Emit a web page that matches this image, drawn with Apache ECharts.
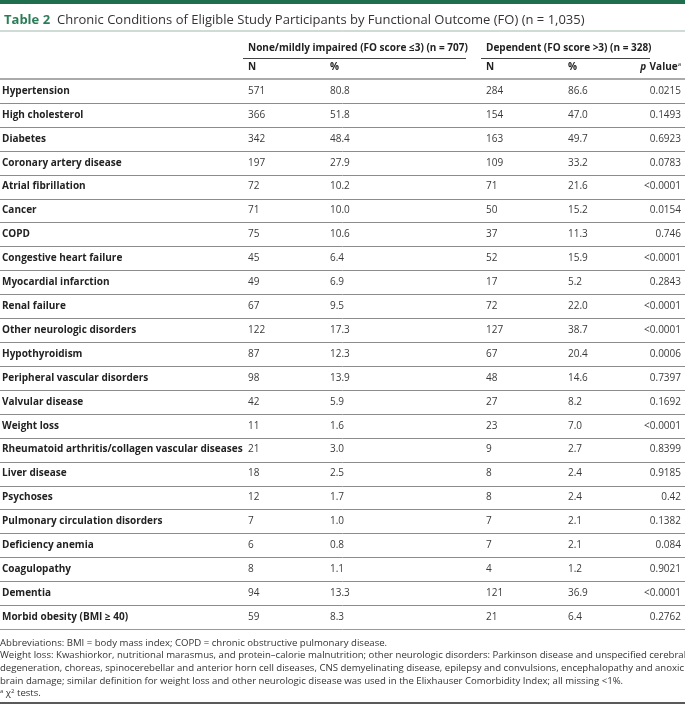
<!DOCTYPE html>
<html><head><meta charset="utf-8">
<script src="https://cdn.jsdelivr.net/npm/echarts@6/dist/echarts.min.js"></script>
<style>html,body{margin:0;padding:0;background:#fff}#c{width:685px;height:704px}</style>
</head><body><div id="c"></div>
<script>
const conditions = ["Hypertension","High cholesterol","Diabetes","Coronary artery disease","Atrial fibrillation","Cancer","COPD","Congestive heart failure","Myocardial infarction","Renal failure","Other neurologic disorders","Hypothyroidism","Peripheral vascular disorders","Valvular disease","Weight loss","Rheumatoid arthritis/collagen vascular diseases","Liver disease","Psychoses","Pulmonary circulation disorders","Deficiency anemia","Coagulopathy","Dementia","Morbid obesity (BMI \u2265 40)"];
const n1 = [571,366,342,197,72,71,75,45,49,67,122,87,98,42,11,21,18,12,7,6,8,94,59];
const pct1 = [80.8,51.8,48.4,27.9,10.2,10.0,10.6,6.4,6.9,9.5,17.3,12.3,13.9,5.9,1.6,3.0,2.5,1.7,1.0,0.8,1.1,13.3,8.3];
const n2 = [284,154,163,109,71,50,37,52,17,72,127,67,48,27,23,9,8,8,7,7,4,121,21];
const pct2 = [86.6,47.0,49.7,33.2,21.6,15.2,11.3,15.9,5.2,22.0,38.7,20.4,14.6,8.2,7.0,2.7,2.4,2.4,2.1,2.1,1.2,36.9,6.4];
const pValues = ["0.0215","0.1493","0.6923","0.0783","<0.0001","0.0154","0.746","<0.0001","0.2843","<0.0001","<0.0001","0.0006","0.7397","0.1692","<0.0001","0.8399","0.9185","0.42","0.1382","0.084","0.9021","<0.0001","0.2762"];
const title = "Chronic Conditions of Eligible Study Participants by Functional Outcome (FO) (n = 1,035)";
const group1 = "None/mildly impaired (FO score \u22643) (n = 707)";
const group2 = "Dependent (FO score >3) (n = 328)";
const footnotes = [
 "Abbreviations: BMI = body mass index; COPD = chronic obstructive pulmonary disease.",
 "Weight loss: Kwashiorkor, nutritional marasmus, and protein\u2013calorie malnutrition; other neurologic disorders: Parkinson disease and unspecified cerebral",
 "degeneration, choreas, spinocerebellar and anterior horn cell diseases, CNS demyelinating disease, epilepsy and convulsions, encephalopathy and anoxic",
 "brain damage; similar definition for weight loss and other neurologic disease was used in the Elixhauser Comorbidity Index; all missing <1%."
];

const FONT = "'Open Sans', 'Noto Sans', sans-serif";
const TXT = '#3a3a3a';
const col = {label:2, n1:248, p1:330, n2:486, p2:568, pv:681};

const chart = echarts.init(document.getElementById('c'), null, {renderer:'canvas'});
function t(x,y,text,opt){
  return Object.assign({type:'text', x:x, y:y, style:Object.assign({text:text, fill:TXT, font:'400 10px '+FONT, textVerticalAlign:'middle', textAlign:'left'}, opt||{})});
}
const graphics = [
  {type:'rect', shape:{x:0,y:0,width:685,height:4}, style:{fill:'#1f6e4d'}},
  {type:'text', x:4, y:20, style:{text:'Table 2', fill:'#2b7d57', font:'700 13px '+FONT, textVerticalAlign:'middle'}},
  {type:'text', x:57, y:20, style:{text:title, fill:'#333', font:'400 13px '+FONT, textVerticalAlign:'middle'}},
  {type:'line', shape:{x1:0,y1:31,x2:685,y2:31}, style:{stroke:'#9db9aa', lineWidth:1}},
  {type:'text', x:col.n1, y:48, style:{text:group1, fill:'#222', font:'700 10px '+FONT, textVerticalAlign:'middle'}},
  {type:'text', x:col.n2, y:48, style:{text:group2, fill:'#222', font:'700 10px '+FONT, textVerticalAlign:'middle'}},
  {type:'line', shape:{x1:243,y1:58.5,x2:466,y2:58.5}, style:{stroke:'#444', lineWidth:1}},
  {type:'line', shape:{x1:481,y1:58.5,x2:650,y2:58.5}, style:{stroke:'#444', lineWidth:1}},
  {type:'text', x:col.n1, y:67, style:{text:'N', fill:'#222', font:'700 10px '+FONT, textVerticalAlign:'middle'}},
  {type:'text', x:col.p1, y:67, style:{text:'%', fill:'#222', font:'700 10px '+FONT, textVerticalAlign:'middle'}},
  {type:'text', x:col.n2, y:67, style:{text:'N', fill:'#222', font:'700 10px '+FONT, textVerticalAlign:'middle'}},
  {type:'text', x:col.p2, y:67, style:{text:'%', fill:'#222', font:'700 10px '+FONT, textVerticalAlign:'middle'}},
  {type:'text', x:col.pv, y:67, style:{text:'{i|p} {b|Value}{s|a}', textAlign:'right', textVerticalAlign:'middle', rich:{
     i:{font:'italic 700 10px '+FONT, fill:'#222'}, b:{font:'700 10px '+FONT, fill:'#222'}, s:{font:'400 6px '+FONT, fill:'#222', verticalAlign:'top', padding:[0,0,5,0]}}}},
  {type:'line', shape:{x1:0,y1:79,x2:685,y2:79}, style:{stroke:'#aaa', lineWidth:2}},
];
footnotes.forEach((f,i)=>{
  graphics.push({type:'text', x:0, y:643+i*12.6, style:{text:f, fill:'#333', font:'400 9.6px '+FONT, textVerticalAlign:'middle'}});
});
graphics.push({type:'text', x:0, y:693.5, style:{text:'{s|a} \u03c7{s|2} tests.', fill:'#333', font:'400 9.6px '+FONT, textVerticalAlign:'middle', rich:{s:{font:'400 6px '+FONT, fill:'#333', verticalAlign:'top'}}}});
graphics.push({type:'line', shape:{x1:0,y1:703,x2:685,y2:703}, style:{stroke:'#222', lineWidth:1.5}});

chart.setOption({
  animation:false,
  grid:{left:0,right:0,top:79,height:550},
  xAxis:{type:'value', min:0, max:685, show:false},
  yAxis:{type:'category', data:conditions, inverse:true, show:false},
  graphic:{elements:graphics},
  series:[{
    type:'custom',
    data:conditions.map((c,i)=>[0,i]),
    renderItem:function(params, api){
      const i = params.dataIndex;
      const y = api.coord([0,i])[1];
      const band = api.size([0,1])[1];
      const x = (v)=>api.coord([v,i])[0];
      const yl = Math.round(y+band/2)+0.5;
      const children = [
        t(x(col.label), y, conditions[i], {fill:'#222', font:'700 10px '+FONT}),
        t(x(col.n1), y, String(n1[i])),
        t(x(col.p1), y, pct1[i].toFixed(1)),
        t(x(col.n2), y, String(n2[i])),
        t(x(col.p2), y, pct2[i].toFixed(1)),
        t(x(col.pv), y, pValues[i], {textAlign:'right'})
      ];
      if (i < conditions.length-1 || true) children.push({type:'line', shape:{x1:0,y1:yl,x2:685,y2:yl}, style:{stroke: i===conditions.length-1 ? '#999' : '#8c8c8c', lineWidth:1}});
      return {type:'group', children:children};
    }
  }]
});
</script></body></html>
